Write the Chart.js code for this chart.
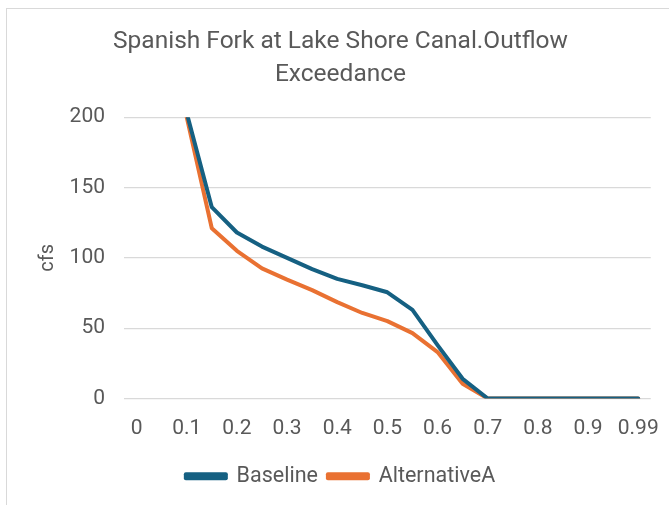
<!DOCTYPE html>
<html>
<head>
<meta charset="utf-8">
<script src="https://cdn.jsdelivr.net/npm/chart.js@4.4.1/dist/chart.umd.min.js"></script>
<style>
  html, body { margin: 0; padding: 0; background: #fff; overflow: hidden; }
  #frame { position: absolute; left: 6px; top: 8px; width: 720px; height: 560px; border: 1.5px solid #d9d9d9; }
  #chart { position: absolute; left: 0; top: 0; }
</style>
</head>
<body>
<div id="frame"></div>
<canvas id="chart" width="669" height="505"></canvas>
<script>
// exceedance probability categories (labels drawn every other one)
const exceedance = ['0', '0.05', '0.1', '0.15', '0.2', '0.25', '0.3', '0.35', '0.4', '0.45', '0.5',
  '0.55', '0.6', '0.65', '0.7', '0.75', '0.8', '0.85', '0.9', '0.95', '0.99'];
const shownLabels = ['0', '0.1', '0.2', '0.3', '0.4', '0.5', '0.6', '0.7', '0.8', '0.9', '0.99'];

// flow in cfs (values above 200 run off the top of the plot)
const baseline = [900, 320, 203, 136, 118, 108, 100, 92, 85, 80.5, 75.5,
  63, 38, 14, 0, 0, 0, 0, 0, 0, 0];
const alternativeA = [850, 300, 200, 121, 105, 92.5, 84.5, 77, 68.5, 60.8, 55,
  46.5, 33, 10.5, 0, 0, 0, 0, 0, 0, 0];

const yTicks = [0, 50, 100, 150, 200];

const FONT = 'Roboto, "Liberation Sans", Arial, sans-serif';
const GREY = '#595959';

new Chart(document.getElementById('chart'), {
  type: 'line',
  data: {
    labels: exceedance,
    datasets: [
      {
        label: 'Baseline',
        data: baseline,
        borderColor: '#156082',
        backgroundColor: '#156082',
        borderWidth: 4,
        pointRadius: 0,
        tension: 0,
        borderJoinStyle: 'round',
        borderCapStyle: 'round'
      },
      {
        label: 'AlternativeA',
        data: alternativeA,
        borderColor: '#E97132',
        backgroundColor: '#E97132',
        borderWidth: 4,
        pointRadius: 0,
        tension: 0,
        borderJoinStyle: 'round',
        borderCapStyle: 'round'
      }
    ]
  },
  options: {
    responsive: false,
    animation: false,
    layout: { padding: { left: 12, right: 0, top: 0, bottom: 8 } },
    plugins: {
      title: {
        display: true,
        text: ['Spanish Fork at Lake Shore Canal.Outflow', 'Exceedance'],
        color: GREY,
        font: { family: FONT, size: 24.5, weight: 'normal', lineHeight: 1.35 },
        padding: { top: 25.5, bottom: 25.5 }
      },
      legend: {
        position: 'bottom',
        labels: {
          color: GREY,
          font: { family: FONT, size: 21.5 },
          boxWidth: 40,
          boxHeight: 4,
          padding: 10
        }
      },
      tooltip: { enabled: false }
    },
    scales: {
      x: {
        offset: true,
        grid: { display: false },
        border: { display: false },
        ticks: {
          autoSkip: false,
          maxRotation: 0,
          color: GREY,
          font: { family: FONT, size: 21 },
          padding: 10,
          callback: function (value) {
            const lab = exceedance[value];
            return shownLabels.includes(lab) ? lab : '';
          }
        },
        afterFit: function (s) { s.height = 57; }
      },
      y: {
        min: 0,
        max: 200,
        afterBuildTicks: function (s) { s.ticks = yTicks.map(v => ({ value: v })); },
        grid: { color: '#d9d9d9', lineWidth: 1.3, drawTicks: false },
        border: { display: false },
        ticks: {
          color: GREY,
          font: { family: FONT, size: 21 },
          padding: 19
        },
        title: {
          display: true,
          text: 'cfs',
          color: GREY,
          font: { family: FONT, size: 20 },
          padding: { top: 24, bottom: 0 }
        },
        afterFit: function (s) { s.width = 112; }
      },
      yRight: {
        position: 'right',
        display: true,
        grid: { display: false },
        border: { display: false },
        ticks: { display: false },
        afterFit: function (s) { s.width = 13; }
      }
    }
  }
});
</script>
</body>
</html>
